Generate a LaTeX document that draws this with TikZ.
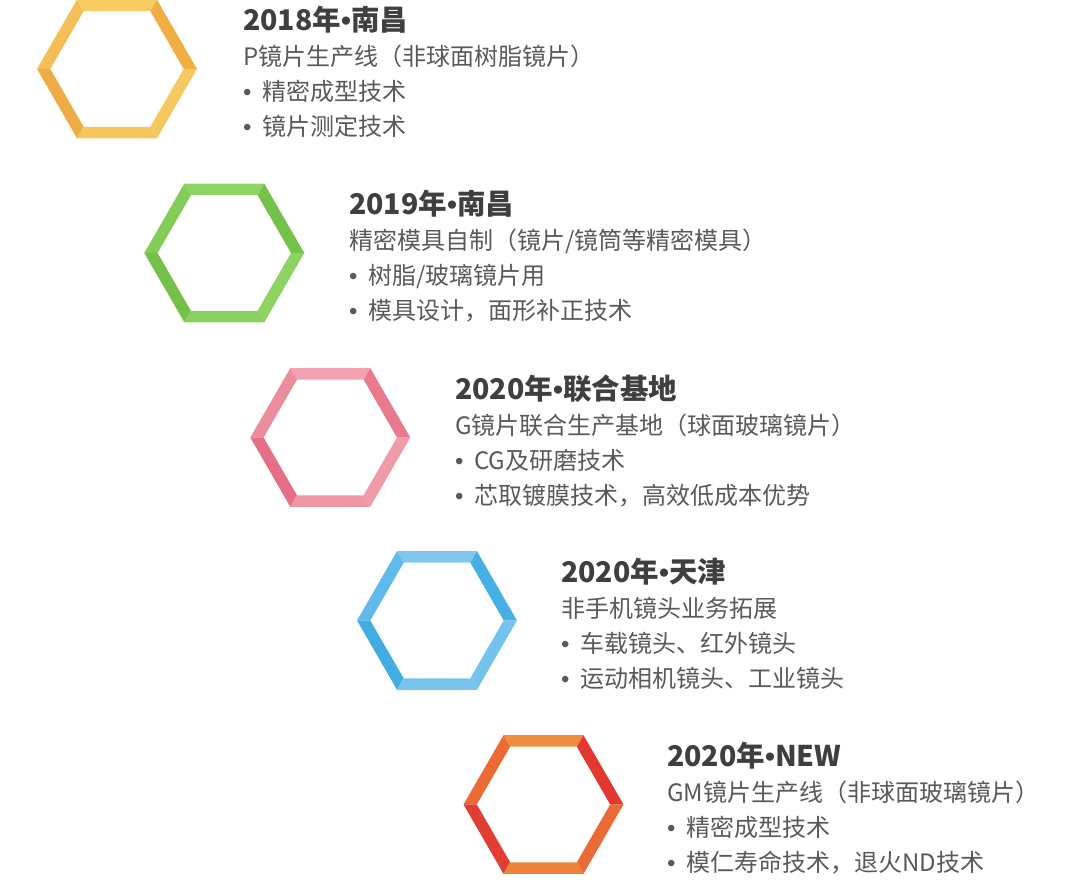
\documentclass[tikz,border=0pt]{standalone}
\usepackage{fontspec}
\newfontfamily\cjk{Noto Sans CJK SC}
\newfontfamily\bulf{Liberation Sans}
\definecolor{ttlc}{HTML}{3F3F3F}
\definecolor{txtc}{HTML}{595959}
% yellow
\definecolor{yA}{HTML}{F7CD62}\definecolor{yB}{HTML}{F3BE55}\definecolor{yC}{HTML}{EFAC46}
\definecolor{yD}{HTML}{F5C45A}\definecolor{yE}{HTML}{F6C860}\definecolor{yF}{HTML}{F0AE45}
% green
\definecolor{gA}{HTML}{8FD463}\definecolor{gB}{HTML}{84CC58}\definecolor{gC}{HTML}{73C14B}
\definecolor{gD}{HTML}{89CF5D}\definecolor{gE}{HTML}{8ED262}\definecolor{gF}{HTML}{74C24A}
% pink
\definecolor{pA}{HTML}{F2A2B0}\definecolor{pB}{HTML}{EC8D9D}\definecolor{pC}{HTML}{E56F87}
\definecolor{pD}{HTML}{EF97A5}\definecolor{pE}{HTML}{F09BA9}\definecolor{pF}{HTML}{E97A8E}
% blue
\definecolor{bA}{HTML}{7FC7EE}\definecolor{bB}{HTML}{5DBAE9}\definecolor{bC}{HTML}{43ADE2}
\definecolor{bD}{HTML}{76C3EC}\definecolor{bE}{HTML}{74C3EC}\definecolor{bF}{HTML}{46B0E5}
% red-orange
\definecolor{rA}{HTML}{F08C3E}\definecolor{rB}{HTML}{EC6A36}\definecolor{rC}{HTML}{DF3F32}
\definecolor{rD}{HTML}{EF8139}\definecolor{rE}{HTML}{EA6A35}\definecolor{rF}{HTML}{E2382F}
\newcommand\bul{\makebox[19pt][l]{\bulf •}}
\newcommand\tbul{{\bulf\bfseries •}}
% #1 cx, #2 cy, #3..#8 colours: top, upper-left, lower-left, bottom, lower-right, upper-right
\newcommand\hexring[8]{%
 \begin{scope}[shift={(#1,#2)}]
  \fill[#3] (60:80) -- (120:80) -- (120:66.7) -- (60:66.7) -- cycle;
  \fill[#4] (120:80) -- (180:80) -- (180:66.7) -- (120:66.7) -- cycle;
  \fill[#5] (180:80) -- (240:80) -- (240:66.7) -- (180:66.7) -- cycle;
  \fill[#6] (240:80) -- (300:80) -- (300:66.7) -- (240:66.7) -- cycle;
  \fill[#7] (300:80) -- (360:80) -- (360:66.7) -- (300:66.7) -- cycle;
  \fill[#8] (0:80) -- (60:80) -- (60:66.7) -- (0:66.7) -- cycle;
 \end{scope}}
% #1 name, #2 x, #3 cy, #4 title, #5 line, #6 bullet 1, #7 bullet 2
\newcommand\stage[7]{%
  \node[ttl] (#1t) at (#2,#3+38) {#4};
  \node[txt] (#1a) at (#2,#3+3) {#5};
  \node[txt] (#1b) at (#2,#3-32) {\bul #6};
  \node[txt] (#1c) at (#2,#3-67) {\bul #7};}
\begin{document}
\begin{tikzpicture}[x=1pt,y=1pt,
  ttl/.style={anchor=base west,inner sep=0pt,text=ttlc,font=\cjk\bfseries\fontsize{28.5}{30}\selectfont},
  txt/.style={anchor=base west,inner sep=0pt,text=txtc,font=\cjk\fontsize{24}{26}\selectfont}]
\useasboundingbox (0,0) rectangle (1080,885);
\hexring{117}{816}{yA}{yB}{yC}{yD}{yE}{yF}
\hexring{224.3}{632}{gA}{gB}{gC}{gD}{gE}{gF}
\hexring{330.3}{447.5}{pA}{pB}{pC}{pD}{pE}{pF}
\hexring{437}{264.5}{bA}{bB}{bC}{bD}{bE}{bF}
\hexring{543.5}{80.5}{rA}{rB}{rC}{rD}{rE}{rF}
\stage{s1}{243}{816}{2018年\tbul 南昌}{P镜片生产线（非球面树脂镜片）}{精密成型技术}{镜片测定技术}
\stage{s2}{349}{632}{2019年\tbul 南昌}{精密模具自制（镜片/镜筒等精密模具）}{树脂/玻璃镜片用}{模具设计，面形补正技术}
\stage{s3}{455}{447.5}{2020年\tbul 联合基地}{G镜片联合生产基地（球面玻璃镜片）}{CG及研磨技术}{芯取镀膜技术，高效低成本优势}
\stage{s4}{561}{264.5}{2020年\tbul 天津}{非手机镜头业务拓展}{车载镜头、红外镜头}{运动相机镜头、工业镜头}
\stage{s5}{667}{80.5}{2020年\tbul NEW}{GM镜片生产线（非球面玻璃镜片）}{精密成型技术}{模仁寿命技术，退火ND技术}
\end{tikzpicture}
\end{document}
